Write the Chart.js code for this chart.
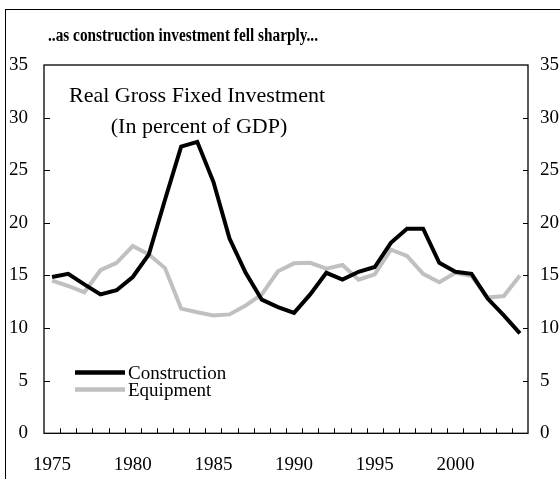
<!DOCTYPE html>
<html>
<head>
<meta charset="utf-8">
<script src="https://cdn.jsdelivr.net/npm/chart.js@4/dist/chart.umd.min.js"></script>
<style>
  html, body { margin: 0; padding: 0; background: #ffffff; }
  #wrap { width: 560px; height: 479px; position: relative; }
</style>
</head>
<body>
<div id="wrap"><canvas id="c" width="560" height="479"></canvas></div>
<script>
// ---- data ----
const years = ['1975','1976','1977','1978','1979','1980','1981','1982','1983','1984',
               '1985','1986','1987','1988','1989','1990','1991','1992','1993','1994',
               '1995','1996','1997','1998','1999','2000','2001','2002','2003','2004'];
const construction = [14.85,15.15,14.15,13.2,13.6,14.85,17.0,22.2,27.25,27.7,
                      23.9,18.5,15.25,12.7,12.0,11.45,13.2,15.25,14.6,15.35,
                      15.8,18.1,19.45,19.45,16.2,15.35,15.15,12.8,11.2,9.5];
const equipment = [14.5,14.0,13.4,15.5,16.2,17.8,17.0,15.7,11.85,11.5,
                   11.2,11.3,12.15,13.2,15.4,16.15,16.2,15.65,16.0,14.6,
                   15.1,17.45,16.85,15.15,14.35,15.25,14.95,12.9,13.05,15.0];
const seriesNames = ['Construction', 'Equipment'];
const yTicks = [0, 5, 10, 15, 20, 25, 30, 35];
const titleText = '..as construction investment fell sharply...';
const noteLines = ['Real Gross Fixed Investment', '(In percent of GDP)'];

const SERIF = '"Liberation Serif", "Times New Roman", serif';
const BLACK = '#000000';
const GREY = '#c0c0c0';

const decor = {
  id: 'decor',
  afterDraw(chart) {
    const ctx = chart.ctx;
    const a = chart.chartArea;
    const xs = chart.scales.x, yl = chart.scales.y, yr = chart.scales.y2;
    ctx.save();
    // outer frame
    ctx.strokeStyle = BLACK; ctx.lineWidth = 1;
    ctx.strokeRect(5.5, 9.5, 600, 600);
    // plot box
    ctx.lineWidth = 1.3;
    ctx.strokeRect(a.left, a.top, a.right - a.left, a.bottom - a.top);
    // inward ticks
    ctx.lineWidth = 1;
    ctx.beginPath();
    for (let i = 1; i < years.length; i++) {
      const px = Math.round((xs.getPixelForValue(i - 1) + xs.getPixelForValue(i)) / 2) + 0.5;
      ctx.moveTo(px, a.bottom); ctx.lineTo(px, a.bottom - 5);
    }
    yTicks.forEach(v => {
      if (v === yTicks[0] || v === yTicks[yTicks.length - 1]) return;
      const py = Math.round(yl.getPixelForValue(v)) + 0.5;
      ctx.moveTo(a.left, py); ctx.lineTo(a.left + 6, py);
      const py2 = Math.round(yr.getPixelForValue(v)) + 0.5;
      ctx.moveTo(a.right, py2); ctx.lineTo(a.right - 5, py2);
    });
    ctx.stroke();
    // title
    ctx.fillStyle = BLACK;
    ctx.textAlign = 'left'; ctx.textBaseline = 'alphabetic';
    ctx.font = 'bold 18px ' + SERIF;
    const tw = ctx.measureText(titleText).width;
    ctx.save();
    ctx.translate(48, 41);
    ctx.scale(270 / tw, 1);
    ctx.fillText(titleText, 0, 0);
    ctx.restore();
    // note
    ctx.font = '22px ' + SERIF;
    ctx.textAlign = 'center';
    ctx.fillText(noteLines[0], 197, 102);
    ctx.fillText(noteLines[1], 199, 133);
    // legend
    const ds = chart.data.datasets;
    const ly = [372.5, 389.5];
    ctx.textAlign = 'left'; ctx.textBaseline = 'middle';
    ctx.font = '19px ' + SERIF;
    ds.forEach((d, i) => {
      ctx.strokeStyle = d.borderColor; ctx.lineWidth = 4.5;
      ctx.beginPath(); ctx.moveTo(75, ly[i]); ctx.lineTo(125, ly[i]); ctx.stroke();
      ctx.fillStyle = BLACK;
      ctx.fillText(d.label, 128, ly[i] + 2);
    });
    ctx.restore();
  }
};

new Chart(document.getElementById('c'), {
  type: 'line',
  data: {
    labels: years,
    datasets: [
      { label: seriesNames[0], data: construction, borderColor: BLACK, borderWidth: 4,
        pointRadius: 0, tension: 0, fill: false },
      { label: seriesNames[1], data: equipment, borderColor: GREY, borderWidth: 4,
        pointRadius: 0, tension: 0, fill: false }
    ]
  },
  options: {
    responsive: false,
    animation: false,
    devicePixelRatio: 1,
    layout: { padding: { left: 0, right: 0, top: 65, bottom: 0 } },
    plugins: { legend: { display: false }, title: { display: false }, tooltip: { enabled: false } },
    scales: {
      x: {
        type: 'category',
        offset: true,
        grid: { display: false, offset: true },
        border: { display: false },
        ticks: {
          autoSkip: false, maxRotation: 0, minRotation: 0, padding: 12,
          color: BLACK, font: { family: SERIF, size: 19 },
          callback: function (v, i) { return i % 5 === 0 ? this.getLabelForValue(v) : ''; }
        },
        afterFit: s => { s.height = 45.7; }
      },
      y: {
        position: 'left', min: 0, max: 35,
        grid: { display: false }, border: { display: false },
        ticks: { stepSize: 5, padding: 8, color: BLACK, font: { family: SERIF, size: 19 } },
        afterFit: s => { s.width = 44; }
      },
      y2: {
        position: 'right', min: 0, max: 35,
        grid: { display: false }, border: { display: false },
        ticks: { stepSize: 5, padding: 4, color: BLACK, font: { family: SERIF, size: 19 } },
        afterFit: s => { s.width = 32; }
      }
    }
  },
  plugins: [decor]
});
</script>
</body>
</html>
